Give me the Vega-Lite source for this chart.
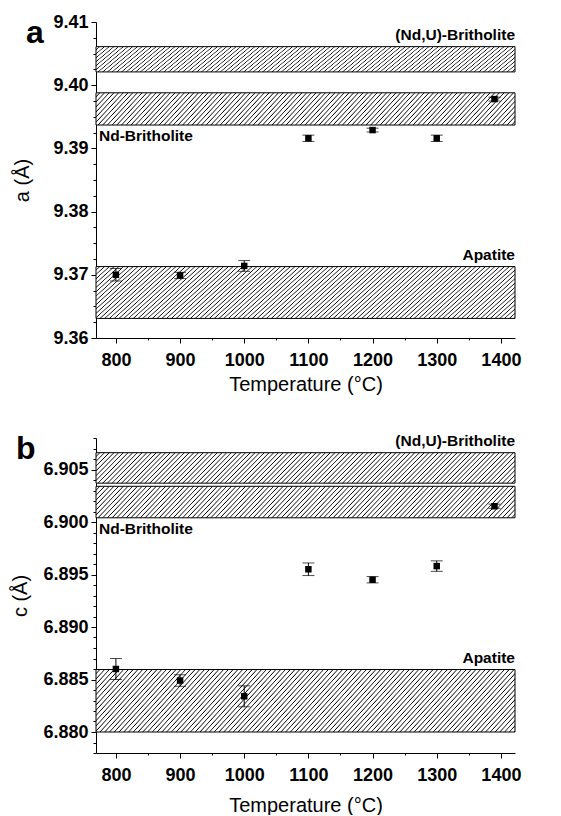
{
"$schema":"https://vega.github.io/schema/vega-lite/v6.json",
"padding":{"left":10,"top":13,"right":5,"bottom":0},
"spacing":39,
"config":{"view":{"stroke":null},"font":"Liberation Sans",
"axis":{"domainColor":"#000","tickColor":"#000","labelColor":"#000","titleColor":"#000","labelFont":"Liberation Sans","titleFont":"Liberation Sans","labelFontWeight":"bold","labelFontSize":18,"titleFontWeight":"normal","titleFontSize":20,"grid":false,"labelFlush":false,"labelOverlap":false,"domainWidth":1,"tickWidth":1}},
"datasets":{
"bandsA":[{"name":"(Nd,U)-Britholite","lo":9.4021,"hi":9.4061,"pos":"above"},{"name":"Nd-Britholite","lo":9.3937,"hi":9.3988,"pos":"below"},{"name":"Apatite","lo":9.3631,"hi":9.3713,"pos":"above"}],
"bandsB":[{"name":"(Nd,U)-Britholite","lo":6.9037,"hi":6.9066,"pos":"above"},{"name":"Nd-Britholite","lo":6.9004,"hi":6.9034,"pos":"below"},{"name":"Apatite","lo":6.880,"hi":6.88595,"pos":"above"}],
"ptsA":[{"T":800,"v":9.3700,"e":0.0010},{"T":900,"v":9.3699,"e":0.0005},{"T":1000,"v":9.3714,"e":0.00085},{"T":1100,"v":9.3916,"e":0.0005},{"T":1200,"v":9.3929,"e":0.0003},{"T":1300,"v":9.3916,"e":0.0005},{"T":1390,"v":9.3978,"e":0.0003}],
"ptsB":[{"T":800,"v":6.8860,"e":0.0010},{"T":900,"v":6.8849,"e":0.00055},{"T":1000,"v":6.8834,"e":0.0010},{"T":1100,"v":6.8955,"e":0.0006},{"T":1200,"v":6.8945,"e":0.0003},{"T":1300,"v":6.8958,"e":0.0005},{"T":1390,"v":6.9015,"e":0.0002}],
"letterA":[{"letter":"a"}],
"letterB":[{"letter":"b"}]
},
"vconcat":[
{
"width":419,"height":316,
"layer":[
{"data":{"name":"bandsA"},"transform":[{"filter":"datum.name != 'Apatite'"}],
"mark":{"type":"rect","stroke":"#000","strokeWidth":1,"fill":{"gradient":"linear","x1":0,"y1":0,"x2":1.1163,"y2":0.0799,"stops":[
{"offset":0,"color":"#fff"},{"offset":0.006,"color":"#fff"},{"offset":0.0082,"color":"#000"},{"offset":0.01,"color":"#fff"},{"offset":0.016,"color":"#fff"},{"offset":0.0182,"color":"#000"},{"offset":0.02,"color":"#fff"},{"offset":0.026,"color":"#fff"},{"offset":0.0282,"color":"#000"},{"offset":0.03,"color":"#fff"},{"offset":0.036,"color":"#fff"},{"offset":0.0382,"color":"#000"},{"offset":0.04,"color":"#fff"},{"offset":0.046,"color":"#fff"},{"offset":0.0482,"color":"#000"},{"offset":0.05,"color":"#fff"},{"offset":0.056,"color":"#fff"},{"offset":0.0582,"color":"#000"},{"offset":0.06,"color":"#fff"},{"offset":0.066,"color":"#fff"},{"offset":0.0682,"color":"#000"},{"offset":0.07,"color":"#fff"},{"offset":0.076,"color":"#fff"},{"offset":0.0782,"color":"#000"},{"offset":0.08,"color":"#fff"},{"offset":0.086,"color":"#fff"},{"offset":0.0882,"color":"#000"},{"offset":0.09,"color":"#fff"},{"offset":0.096,"color":"#fff"},{"offset":0.0982,"color":"#000"},
{"offset":0.1,"color":"#fff"},{"offset":0.106,"color":"#fff"},{"offset":0.1082,"color":"#000"},{"offset":0.11,"color":"#fff"},{"offset":0.116,"color":"#fff"},{"offset":0.1182,"color":"#000"},{"offset":0.12,"color":"#fff"},{"offset":0.126,"color":"#fff"},{"offset":0.1282,"color":"#000"},{"offset":0.13,"color":"#fff"},{"offset":0.136,"color":"#fff"},{"offset":0.1382,"color":"#000"},{"offset":0.14,"color":"#fff"},{"offset":0.146,"color":"#fff"},{"offset":0.1482,"color":"#000"},{"offset":0.15,"color":"#fff"},{"offset":0.156,"color":"#fff"},{"offset":0.1582,"color":"#000"},{"offset":0.16,"color":"#fff"},{"offset":0.166,"color":"#fff"},{"offset":0.1682,"color":"#000"},{"offset":0.17,"color":"#fff"},{"offset":0.176,"color":"#fff"},{"offset":0.1782,"color":"#000"},{"offset":0.18,"color":"#fff"},{"offset":0.186,"color":"#fff"},{"offset":0.1882,"color":"#000"},{"offset":0.19,"color":"#fff"},{"offset":0.196,"color":"#fff"},{"offset":0.1982,"color":"#000"},
{"offset":0.2,"color":"#fff"},{"offset":0.206,"color":"#fff"},{"offset":0.2082,"color":"#000"},{"offset":0.21,"color":"#fff"},{"offset":0.216,"color":"#fff"},{"offset":0.2182,"color":"#000"},{"offset":0.22,"color":"#fff"},{"offset":0.226,"color":"#fff"},{"offset":0.2282,"color":"#000"},{"offset":0.23,"color":"#fff"},{"offset":0.236,"color":"#fff"},{"offset":0.2382,"color":"#000"},{"offset":0.24,"color":"#fff"},{"offset":0.246,"color":"#fff"},{"offset":0.2482,"color":"#000"},{"offset":0.25,"color":"#fff"},{"offset":0.256,"color":"#fff"},{"offset":0.2582,"color":"#000"},{"offset":0.26,"color":"#fff"},{"offset":0.266,"color":"#fff"},{"offset":0.2682,"color":"#000"},{"offset":0.27,"color":"#fff"},{"offset":0.276,"color":"#fff"},{"offset":0.2782,"color":"#000"},{"offset":0.28,"color":"#fff"},{"offset":0.286,"color":"#fff"},{"offset":0.2882,"color":"#000"},{"offset":0.29,"color":"#fff"},{"offset":0.296,"color":"#fff"},{"offset":0.2982,"color":"#000"},
{"offset":0.3,"color":"#fff"},{"offset":0.306,"color":"#fff"},{"offset":0.3082,"color":"#000"},{"offset":0.31,"color":"#fff"},{"offset":0.316,"color":"#fff"},{"offset":0.3182,"color":"#000"},{"offset":0.32,"color":"#fff"},{"offset":0.326,"color":"#fff"},{"offset":0.3282,"color":"#000"},{"offset":0.33,"color":"#fff"},{"offset":0.336,"color":"#fff"},{"offset":0.3382,"color":"#000"},{"offset":0.34,"color":"#fff"},{"offset":0.346,"color":"#fff"},{"offset":0.3482,"color":"#000"},{"offset":0.35,"color":"#fff"},{"offset":0.356,"color":"#fff"},{"offset":0.3582,"color":"#000"},{"offset":0.36,"color":"#fff"},{"offset":0.366,"color":"#fff"},{"offset":0.3682,"color":"#000"},{"offset":0.37,"color":"#fff"},{"offset":0.376,"color":"#fff"},{"offset":0.3782,"color":"#000"},{"offset":0.38,"color":"#fff"},{"offset":0.386,"color":"#fff"},{"offset":0.3882,"color":"#000"},{"offset":0.39,"color":"#fff"},{"offset":0.396,"color":"#fff"},{"offset":0.3982,"color":"#000"},
{"offset":0.4,"color":"#fff"},{"offset":0.406,"color":"#fff"},{"offset":0.4082,"color":"#000"},{"offset":0.41,"color":"#fff"},{"offset":0.416,"color":"#fff"},{"offset":0.4182,"color":"#000"},{"offset":0.42,"color":"#fff"},{"offset":0.426,"color":"#fff"},{"offset":0.4282,"color":"#000"},{"offset":0.43,"color":"#fff"},{"offset":0.436,"color":"#fff"},{"offset":0.4382,"color":"#000"},{"offset":0.44,"color":"#fff"},{"offset":0.446,"color":"#fff"},{"offset":0.4482,"color":"#000"},{"offset":0.45,"color":"#fff"},{"offset":0.456,"color":"#fff"},{"offset":0.4582,"color":"#000"},{"offset":0.46,"color":"#fff"},{"offset":0.466,"color":"#fff"},{"offset":0.4682,"color":"#000"},{"offset":0.47,"color":"#fff"},{"offset":0.476,"color":"#fff"},{"offset":0.4782,"color":"#000"},{"offset":0.48,"color":"#fff"},{"offset":0.486,"color":"#fff"},{"offset":0.4882,"color":"#000"},{"offset":0.49,"color":"#fff"},{"offset":0.496,"color":"#fff"},{"offset":0.4982,"color":"#000"},
{"offset":0.5,"color":"#fff"},{"offset":0.506,"color":"#fff"},{"offset":0.5082,"color":"#000"},{"offset":0.51,"color":"#fff"},{"offset":0.516,"color":"#fff"},{"offset":0.5182,"color":"#000"},{"offset":0.52,"color":"#fff"},{"offset":0.526,"color":"#fff"},{"offset":0.5282,"color":"#000"},{"offset":0.53,"color":"#fff"},{"offset":0.536,"color":"#fff"},{"offset":0.5382,"color":"#000"},{"offset":0.54,"color":"#fff"},{"offset":0.546,"color":"#fff"},{"offset":0.5482,"color":"#000"},{"offset":0.55,"color":"#fff"},{"offset":0.556,"color":"#fff"},{"offset":0.5582,"color":"#000"},{"offset":0.56,"color":"#fff"},{"offset":0.566,"color":"#fff"},{"offset":0.5682,"color":"#000"},{"offset":0.57,"color":"#fff"},{"offset":0.576,"color":"#fff"},{"offset":0.5782,"color":"#000"},{"offset":0.58,"color":"#fff"},{"offset":0.586,"color":"#fff"},{"offset":0.5882,"color":"#000"},{"offset":0.59,"color":"#fff"},{"offset":0.596,"color":"#fff"},{"offset":0.5982,"color":"#000"},
{"offset":0.6,"color":"#fff"},{"offset":0.606,"color":"#fff"},{"offset":0.6082,"color":"#000"},{"offset":0.61,"color":"#fff"},{"offset":0.616,"color":"#fff"},{"offset":0.6182,"color":"#000"},{"offset":0.62,"color":"#fff"},{"offset":0.626,"color":"#fff"},{"offset":0.6282,"color":"#000"},{"offset":0.63,"color":"#fff"},{"offset":0.636,"color":"#fff"},{"offset":0.6382,"color":"#000"},{"offset":0.64,"color":"#fff"},{"offset":0.646,"color":"#fff"},{"offset":0.6482,"color":"#000"},{"offset":0.65,"color":"#fff"},{"offset":0.656,"color":"#fff"},{"offset":0.6582,"color":"#000"},{"offset":0.66,"color":"#fff"},{"offset":0.666,"color":"#fff"},{"offset":0.6682,"color":"#000"},{"offset":0.67,"color":"#fff"},{"offset":0.676,"color":"#fff"},{"offset":0.6782,"color":"#000"},{"offset":0.68,"color":"#fff"},{"offset":0.686,"color":"#fff"},{"offset":0.6882,"color":"#000"},{"offset":0.69,"color":"#fff"},{"offset":0.696,"color":"#fff"},{"offset":0.6982,"color":"#000"},
{"offset":0.7,"color":"#fff"},{"offset":0.706,"color":"#fff"},{"offset":0.7082,"color":"#000"},{"offset":0.71,"color":"#fff"},{"offset":0.716,"color":"#fff"},{"offset":0.7182,"color":"#000"},{"offset":0.72,"color":"#fff"},{"offset":0.726,"color":"#fff"},{"offset":0.7282,"color":"#000"},{"offset":0.73,"color":"#fff"},{"offset":0.736,"color":"#fff"},{"offset":0.7382,"color":"#000"},{"offset":0.74,"color":"#fff"},{"offset":0.746,"color":"#fff"},{"offset":0.7482,"color":"#000"},{"offset":0.75,"color":"#fff"},{"offset":0.756,"color":"#fff"},{"offset":0.7582,"color":"#000"},{"offset":0.76,"color":"#fff"},{"offset":0.766,"color":"#fff"},{"offset":0.7682,"color":"#000"},{"offset":0.77,"color":"#fff"},{"offset":0.776,"color":"#fff"},{"offset":0.7782,"color":"#000"},{"offset":0.78,"color":"#fff"},{"offset":0.786,"color":"#fff"},{"offset":0.7882,"color":"#000"},{"offset":0.79,"color":"#fff"},{"offset":0.796,"color":"#fff"},{"offset":0.7982,"color":"#000"},
{"offset":0.8,"color":"#fff"},{"offset":0.806,"color":"#fff"},{"offset":0.8082,"color":"#000"},{"offset":0.81,"color":"#fff"},{"offset":0.816,"color":"#fff"},{"offset":0.8182,"color":"#000"},{"offset":0.82,"color":"#fff"},{"offset":0.826,"color":"#fff"},{"offset":0.8282,"color":"#000"},{"offset":0.83,"color":"#fff"},{"offset":0.836,"color":"#fff"},{"offset":0.8382,"color":"#000"},{"offset":0.84,"color":"#fff"},{"offset":0.846,"color":"#fff"},{"offset":0.8482,"color":"#000"},{"offset":0.85,"color":"#fff"},{"offset":0.856,"color":"#fff"},{"offset":0.8582,"color":"#000"},{"offset":0.86,"color":"#fff"},{"offset":0.866,"color":"#fff"},{"offset":0.8682,"color":"#000"},{"offset":0.87,"color":"#fff"},{"offset":0.876,"color":"#fff"},{"offset":0.8782,"color":"#000"},{"offset":0.88,"color":"#fff"},{"offset":0.886,"color":"#fff"},{"offset":0.8882,"color":"#000"},{"offset":0.89,"color":"#fff"},{"offset":0.896,"color":"#fff"},{"offset":0.8982,"color":"#000"},
{"offset":0.9,"color":"#fff"},{"offset":0.906,"color":"#fff"},{"offset":0.9082,"color":"#000"},{"offset":0.91,"color":"#fff"},{"offset":0.916,"color":"#fff"},{"offset":0.9182,"color":"#000"},{"offset":0.92,"color":"#fff"},{"offset":0.926,"color":"#fff"},{"offset":0.9282,"color":"#000"},{"offset":0.93,"color":"#fff"},{"offset":0.936,"color":"#fff"},{"offset":0.9382,"color":"#000"},{"offset":0.94,"color":"#fff"},{"offset":0.946,"color":"#fff"},{"offset":0.9482,"color":"#000"},{"offset":0.95,"color":"#fff"},{"offset":0.956,"color":"#fff"},{"offset":0.9582,"color":"#000"},{"offset":0.96,"color":"#fff"},{"offset":0.966,"color":"#fff"},{"offset":0.9682,"color":"#000"},{"offset":0.97,"color":"#fff"},{"offset":0.976,"color":"#fff"},{"offset":0.9782,"color":"#000"},{"offset":0.98,"color":"#fff"},{"offset":0.986,"color":"#fff"},{"offset":0.9882,"color":"#000"},{"offset":0.99,"color":"#fff"},{"offset":0.996,"color":"#fff"},{"offset":0.9982,"color":"#000"}
]}},
"encoding":{"y":{"field":"lo","type":"quantitative","scale":{"domain":[9.36,9.41],"nice":false,"zero":false},"axis":{"orient":"left","values":[9.3625,9.365,9.3675,9.3725,9.375,9.3775,9.3825,9.385,9.3875,9.3925,9.395,9.3975,9.4025,9.405,9.4075],"tickSize":3,"labels":false,"domain":false,"title":null}},"y2":{"field":"hi"}}},
{"data":{"name":"bandsA"},"transform":[{"filter":"datum.name == 'Apatite'"}],
"mark":{"type":"rect","stroke":"#000","strokeWidth":1,"fill":{"gradient":"linear","x1":0,"y1":0,"x2":1.1154,"y2":0.1517,"stops":[
{"offset":0,"color":"#fff"},{"offset":0.006,"color":"#fff"},{"offset":0.0082,"color":"#000"},{"offset":0.01,"color":"#fff"},{"offset":0.016,"color":"#fff"},{"offset":0.0182,"color":"#000"},{"offset":0.02,"color":"#fff"},{"offset":0.026,"color":"#fff"},{"offset":0.0282,"color":"#000"},{"offset":0.03,"color":"#fff"},{"offset":0.036,"color":"#fff"},{"offset":0.0382,"color":"#000"},{"offset":0.04,"color":"#fff"},{"offset":0.046,"color":"#fff"},{"offset":0.0482,"color":"#000"},{"offset":0.05,"color":"#fff"},{"offset":0.056,"color":"#fff"},{"offset":0.0582,"color":"#000"},{"offset":0.06,"color":"#fff"},{"offset":0.066,"color":"#fff"},{"offset":0.0682,"color":"#000"},{"offset":0.07,"color":"#fff"},{"offset":0.076,"color":"#fff"},{"offset":0.0782,"color":"#000"},{"offset":0.08,"color":"#fff"},{"offset":0.086,"color":"#fff"},{"offset":0.0882,"color":"#000"},{"offset":0.09,"color":"#fff"},{"offset":0.096,"color":"#fff"},{"offset":0.0982,"color":"#000"},
{"offset":0.1,"color":"#fff"},{"offset":0.106,"color":"#fff"},{"offset":0.1082,"color":"#000"},{"offset":0.11,"color":"#fff"},{"offset":0.116,"color":"#fff"},{"offset":0.1182,"color":"#000"},{"offset":0.12,"color":"#fff"},{"offset":0.126,"color":"#fff"},{"offset":0.1282,"color":"#000"},{"offset":0.13,"color":"#fff"},{"offset":0.136,"color":"#fff"},{"offset":0.1382,"color":"#000"},{"offset":0.14,"color":"#fff"},{"offset":0.146,"color":"#fff"},{"offset":0.1482,"color":"#000"},{"offset":0.15,"color":"#fff"},{"offset":0.156,"color":"#fff"},{"offset":0.1582,"color":"#000"},{"offset":0.16,"color":"#fff"},{"offset":0.166,"color":"#fff"},{"offset":0.1682,"color":"#000"},{"offset":0.17,"color":"#fff"},{"offset":0.176,"color":"#fff"},{"offset":0.1782,"color":"#000"},{"offset":0.18,"color":"#fff"},{"offset":0.186,"color":"#fff"},{"offset":0.1882,"color":"#000"},{"offset":0.19,"color":"#fff"},{"offset":0.196,"color":"#fff"},{"offset":0.1982,"color":"#000"},
{"offset":0.2,"color":"#fff"},{"offset":0.206,"color":"#fff"},{"offset":0.2082,"color":"#000"},{"offset":0.21,"color":"#fff"},{"offset":0.216,"color":"#fff"},{"offset":0.2182,"color":"#000"},{"offset":0.22,"color":"#fff"},{"offset":0.226,"color":"#fff"},{"offset":0.2282,"color":"#000"},{"offset":0.23,"color":"#fff"},{"offset":0.236,"color":"#fff"},{"offset":0.2382,"color":"#000"},{"offset":0.24,"color":"#fff"},{"offset":0.246,"color":"#fff"},{"offset":0.2482,"color":"#000"},{"offset":0.25,"color":"#fff"},{"offset":0.256,"color":"#fff"},{"offset":0.2582,"color":"#000"},{"offset":0.26,"color":"#fff"},{"offset":0.266,"color":"#fff"},{"offset":0.2682,"color":"#000"},{"offset":0.27,"color":"#fff"},{"offset":0.276,"color":"#fff"},{"offset":0.2782,"color":"#000"},{"offset":0.28,"color":"#fff"},{"offset":0.286,"color":"#fff"},{"offset":0.2882,"color":"#000"},{"offset":0.29,"color":"#fff"},{"offset":0.296,"color":"#fff"},{"offset":0.2982,"color":"#000"},
{"offset":0.3,"color":"#fff"},{"offset":0.306,"color":"#fff"},{"offset":0.3082,"color":"#000"},{"offset":0.31,"color":"#fff"},{"offset":0.316,"color":"#fff"},{"offset":0.3182,"color":"#000"},{"offset":0.32,"color":"#fff"},{"offset":0.326,"color":"#fff"},{"offset":0.3282,"color":"#000"},{"offset":0.33,"color":"#fff"},{"offset":0.336,"color":"#fff"},{"offset":0.3382,"color":"#000"},{"offset":0.34,"color":"#fff"},{"offset":0.346,"color":"#fff"},{"offset":0.3482,"color":"#000"},{"offset":0.35,"color":"#fff"},{"offset":0.356,"color":"#fff"},{"offset":0.3582,"color":"#000"},{"offset":0.36,"color":"#fff"},{"offset":0.366,"color":"#fff"},{"offset":0.3682,"color":"#000"},{"offset":0.37,"color":"#fff"},{"offset":0.376,"color":"#fff"},{"offset":0.3782,"color":"#000"},{"offset":0.38,"color":"#fff"},{"offset":0.386,"color":"#fff"},{"offset":0.3882,"color":"#000"},{"offset":0.39,"color":"#fff"},{"offset":0.396,"color":"#fff"},{"offset":0.3982,"color":"#000"},
{"offset":0.4,"color":"#fff"},{"offset":0.406,"color":"#fff"},{"offset":0.4082,"color":"#000"},{"offset":0.41,"color":"#fff"},{"offset":0.416,"color":"#fff"},{"offset":0.4182,"color":"#000"},{"offset":0.42,"color":"#fff"},{"offset":0.426,"color":"#fff"},{"offset":0.4282,"color":"#000"},{"offset":0.43,"color":"#fff"},{"offset":0.436,"color":"#fff"},{"offset":0.4382,"color":"#000"},{"offset":0.44,"color":"#fff"},{"offset":0.446,"color":"#fff"},{"offset":0.4482,"color":"#000"},{"offset":0.45,"color":"#fff"},{"offset":0.456,"color":"#fff"},{"offset":0.4582,"color":"#000"},{"offset":0.46,"color":"#fff"},{"offset":0.466,"color":"#fff"},{"offset":0.4682,"color":"#000"},{"offset":0.47,"color":"#fff"},{"offset":0.476,"color":"#fff"},{"offset":0.4782,"color":"#000"},{"offset":0.48,"color":"#fff"},{"offset":0.486,"color":"#fff"},{"offset":0.4882,"color":"#000"},{"offset":0.49,"color":"#fff"},{"offset":0.496,"color":"#fff"},{"offset":0.4982,"color":"#000"},
{"offset":0.5,"color":"#fff"},{"offset":0.506,"color":"#fff"},{"offset":0.5082,"color":"#000"},{"offset":0.51,"color":"#fff"},{"offset":0.516,"color":"#fff"},{"offset":0.5182,"color":"#000"},{"offset":0.52,"color":"#fff"},{"offset":0.526,"color":"#fff"},{"offset":0.5282,"color":"#000"},{"offset":0.53,"color":"#fff"},{"offset":0.536,"color":"#fff"},{"offset":0.5382,"color":"#000"},{"offset":0.54,"color":"#fff"},{"offset":0.546,"color":"#fff"},{"offset":0.5482,"color":"#000"},{"offset":0.55,"color":"#fff"},{"offset":0.556,"color":"#fff"},{"offset":0.5582,"color":"#000"},{"offset":0.56,"color":"#fff"},{"offset":0.566,"color":"#fff"},{"offset":0.5682,"color":"#000"},{"offset":0.57,"color":"#fff"},{"offset":0.576,"color":"#fff"},{"offset":0.5782,"color":"#000"},{"offset":0.58,"color":"#fff"},{"offset":0.586,"color":"#fff"},{"offset":0.5882,"color":"#000"},{"offset":0.59,"color":"#fff"},{"offset":0.596,"color":"#fff"},{"offset":0.5982,"color":"#000"},
{"offset":0.6,"color":"#fff"},{"offset":0.606,"color":"#fff"},{"offset":0.6082,"color":"#000"},{"offset":0.61,"color":"#fff"},{"offset":0.616,"color":"#fff"},{"offset":0.6182,"color":"#000"},{"offset":0.62,"color":"#fff"},{"offset":0.626,"color":"#fff"},{"offset":0.6282,"color":"#000"},{"offset":0.63,"color":"#fff"},{"offset":0.636,"color":"#fff"},{"offset":0.6382,"color":"#000"},{"offset":0.64,"color":"#fff"},{"offset":0.646,"color":"#fff"},{"offset":0.6482,"color":"#000"},{"offset":0.65,"color":"#fff"},{"offset":0.656,"color":"#fff"},{"offset":0.6582,"color":"#000"},{"offset":0.66,"color":"#fff"},{"offset":0.666,"color":"#fff"},{"offset":0.6682,"color":"#000"},{"offset":0.67,"color":"#fff"},{"offset":0.676,"color":"#fff"},{"offset":0.6782,"color":"#000"},{"offset":0.68,"color":"#fff"},{"offset":0.686,"color":"#fff"},{"offset":0.6882,"color":"#000"},{"offset":0.69,"color":"#fff"},{"offset":0.696,"color":"#fff"},{"offset":0.6982,"color":"#000"},
{"offset":0.7,"color":"#fff"},{"offset":0.706,"color":"#fff"},{"offset":0.7082,"color":"#000"},{"offset":0.71,"color":"#fff"},{"offset":0.716,"color":"#fff"},{"offset":0.7182,"color":"#000"},{"offset":0.72,"color":"#fff"},{"offset":0.726,"color":"#fff"},{"offset":0.7282,"color":"#000"},{"offset":0.73,"color":"#fff"},{"offset":0.736,"color":"#fff"},{"offset":0.7382,"color":"#000"},{"offset":0.74,"color":"#fff"},{"offset":0.746,"color":"#fff"},{"offset":0.7482,"color":"#000"},{"offset":0.75,"color":"#fff"},{"offset":0.756,"color":"#fff"},{"offset":0.7582,"color":"#000"},{"offset":0.76,"color":"#fff"},{"offset":0.766,"color":"#fff"},{"offset":0.7682,"color":"#000"},{"offset":0.77,"color":"#fff"},{"offset":0.776,"color":"#fff"},{"offset":0.7782,"color":"#000"},{"offset":0.78,"color":"#fff"},{"offset":0.786,"color":"#fff"},{"offset":0.7882,"color":"#000"},{"offset":0.79,"color":"#fff"},{"offset":0.796,"color":"#fff"},{"offset":0.7982,"color":"#000"},
{"offset":0.8,"color":"#fff"},{"offset":0.806,"color":"#fff"},{"offset":0.8082,"color":"#000"},{"offset":0.81,"color":"#fff"},{"offset":0.816,"color":"#fff"},{"offset":0.8182,"color":"#000"},{"offset":0.82,"color":"#fff"},{"offset":0.826,"color":"#fff"},{"offset":0.8282,"color":"#000"},{"offset":0.83,"color":"#fff"},{"offset":0.836,"color":"#fff"},{"offset":0.8382,"color":"#000"},{"offset":0.84,"color":"#fff"},{"offset":0.846,"color":"#fff"},{"offset":0.8482,"color":"#000"},{"offset":0.85,"color":"#fff"},{"offset":0.856,"color":"#fff"},{"offset":0.8582,"color":"#000"},{"offset":0.86,"color":"#fff"},{"offset":0.866,"color":"#fff"},{"offset":0.8682,"color":"#000"},{"offset":0.87,"color":"#fff"},{"offset":0.876,"color":"#fff"},{"offset":0.8782,"color":"#000"},{"offset":0.88,"color":"#fff"},{"offset":0.886,"color":"#fff"},{"offset":0.8882,"color":"#000"},{"offset":0.89,"color":"#fff"},{"offset":0.896,"color":"#fff"},{"offset":0.8982,"color":"#000"},
{"offset":0.9,"color":"#fff"},{"offset":0.906,"color":"#fff"},{"offset":0.9082,"color":"#000"},{"offset":0.91,"color":"#fff"},{"offset":0.916,"color":"#fff"},{"offset":0.9182,"color":"#000"},{"offset":0.92,"color":"#fff"},{"offset":0.926,"color":"#fff"},{"offset":0.9282,"color":"#000"},{"offset":0.93,"color":"#fff"},{"offset":0.936,"color":"#fff"},{"offset":0.9382,"color":"#000"},{"offset":0.94,"color":"#fff"},{"offset":0.946,"color":"#fff"},{"offset":0.9482,"color":"#000"},{"offset":0.95,"color":"#fff"},{"offset":0.956,"color":"#fff"},{"offset":0.9582,"color":"#000"},{"offset":0.96,"color":"#fff"},{"offset":0.966,"color":"#fff"},{"offset":0.9682,"color":"#000"},{"offset":0.97,"color":"#fff"},{"offset":0.976,"color":"#fff"},{"offset":0.9782,"color":"#000"},{"offset":0.98,"color":"#fff"},{"offset":0.986,"color":"#fff"},{"offset":0.9882,"color":"#000"},{"offset":0.99,"color":"#fff"},{"offset":0.996,"color":"#fff"},{"offset":0.9982,"color":"#000"}
]}},
"encoding":{"y":{"field":"lo","type":"quantitative","axis":null},"y2":{"field":"hi"}}},
{"data":{"name":"bandsA"},"transform":[{"filter":"datum.pos == 'above'"}],
"mark":{"type":"text","align":"right","baseline":"alphabetic","dy":-7,"fontSize":15.5,"fontWeight":"bold","font":"Liberation Sans","color":"#000"},
"encoding":{"x":{"datum":1422,"type":"quantitative","axis":null},"y":{"field":"hi","type":"quantitative","axis":null},"text":{"field":"name"}}},
{"data":{"name":"bandsA"},"transform":[{"filter":"datum.pos == 'below'"}],
"mark":{"type":"text","align":"left","baseline":"top","dx":3,"dy":4,"fontSize":15.5,"fontWeight":"bold","font":"Liberation Sans","color":"#000"},
"encoding":{"x":{"datum":769,"type":"quantitative","axis":null},"y":{"field":"lo","type":"quantitative","axis":null},"text":{"field":"name"}}},
{"data":{"name":"letterA"},
"mark":{"type":"text","align":"left","baseline":"alphabetic","dx":-70,"dy":21,"fontSize":32,"fontWeight":"bold","font":"Liberation Sans","color":"#000"},
"encoding":{"x":{"datum":769,"type":"quantitative","axis":null},"y":{"datum":9.41,"type":"quantitative","axis":null},"text":{"field":"letter"}}},
{"data":{"name":"ptsA"},
"mark":{"type":"errorbar","ticks":{"size":12},"thickness":1,"color":"#000"},
"encoding":{"x":{"field":"T","type":"quantitative","scale":{"domain":[769,1422],"nice":false,"zero":false},"axis":{"orient":"bottom","values":[850,950,1050,1150,1250,1350],"tickSize":2,"labels":false,"domain":false,"title":null}},"y":{"field":"v","type":"quantitative","axis":null},"yError":{"field":"e"}}},
{"data":{"name":"ptsA"},
"mark":{"type":"square","size":42,"color":"#000","opacity":1},
"encoding":{"x":{"field":"T","type":"quantitative","axis":{"orient":"bottom","values":[800,900,1000,1100,1200,1300,1400],"format":"d","tickSize":5,"labelPadding":8,"titlePadding":5,"title":"Temperature (°C)"}},
"y":{"field":"v","type":"quantitative","axis":{"orient":"left","values":[9.36,9.37,9.38,9.39,9.40,9.41],"format":".2f","tickSize":5,"labelPadding":3,"titlePadding":20,"title":"a (Å)"}}}}
],
"resolve":{"axis":{"x":"independent","y":"independent"}}
},
{
"width":419,"height":315,
"layer":[
{"data":{"name":"bandsB"},"transform":[{"filter":"datum.name != 'Apatite'"}],
"mark":{"type":"rect","stroke":"#000","strokeWidth":1,"fill":{"gradient":"linear","x1":0,"y1":0,"x2":1.1163,"y2":0.0799,"stops":[
{"offset":0,"color":"#fff"},{"offset":0.006,"color":"#fff"},{"offset":0.0082,"color":"#000"},{"offset":0.01,"color":"#fff"},{"offset":0.016,"color":"#fff"},{"offset":0.0182,"color":"#000"},{"offset":0.02,"color":"#fff"},{"offset":0.026,"color":"#fff"},{"offset":0.0282,"color":"#000"},{"offset":0.03,"color":"#fff"},{"offset":0.036,"color":"#fff"},{"offset":0.0382,"color":"#000"},{"offset":0.04,"color":"#fff"},{"offset":0.046,"color":"#fff"},{"offset":0.0482,"color":"#000"},{"offset":0.05,"color":"#fff"},{"offset":0.056,"color":"#fff"},{"offset":0.0582,"color":"#000"},{"offset":0.06,"color":"#fff"},{"offset":0.066,"color":"#fff"},{"offset":0.0682,"color":"#000"},{"offset":0.07,"color":"#fff"},{"offset":0.076,"color":"#fff"},{"offset":0.0782,"color":"#000"},{"offset":0.08,"color":"#fff"},{"offset":0.086,"color":"#fff"},{"offset":0.0882,"color":"#000"},{"offset":0.09,"color":"#fff"},{"offset":0.096,"color":"#fff"},{"offset":0.0982,"color":"#000"},
{"offset":0.1,"color":"#fff"},{"offset":0.106,"color":"#fff"},{"offset":0.1082,"color":"#000"},{"offset":0.11,"color":"#fff"},{"offset":0.116,"color":"#fff"},{"offset":0.1182,"color":"#000"},{"offset":0.12,"color":"#fff"},{"offset":0.126,"color":"#fff"},{"offset":0.1282,"color":"#000"},{"offset":0.13,"color":"#fff"},{"offset":0.136,"color":"#fff"},{"offset":0.1382,"color":"#000"},{"offset":0.14,"color":"#fff"},{"offset":0.146,"color":"#fff"},{"offset":0.1482,"color":"#000"},{"offset":0.15,"color":"#fff"},{"offset":0.156,"color":"#fff"},{"offset":0.1582,"color":"#000"},{"offset":0.16,"color":"#fff"},{"offset":0.166,"color":"#fff"},{"offset":0.1682,"color":"#000"},{"offset":0.17,"color":"#fff"},{"offset":0.176,"color":"#fff"},{"offset":0.1782,"color":"#000"},{"offset":0.18,"color":"#fff"},{"offset":0.186,"color":"#fff"},{"offset":0.1882,"color":"#000"},{"offset":0.19,"color":"#fff"},{"offset":0.196,"color":"#fff"},{"offset":0.1982,"color":"#000"},
{"offset":0.2,"color":"#fff"},{"offset":0.206,"color":"#fff"},{"offset":0.2082,"color":"#000"},{"offset":0.21,"color":"#fff"},{"offset":0.216,"color":"#fff"},{"offset":0.2182,"color":"#000"},{"offset":0.22,"color":"#fff"},{"offset":0.226,"color":"#fff"},{"offset":0.2282,"color":"#000"},{"offset":0.23,"color":"#fff"},{"offset":0.236,"color":"#fff"},{"offset":0.2382,"color":"#000"},{"offset":0.24,"color":"#fff"},{"offset":0.246,"color":"#fff"},{"offset":0.2482,"color":"#000"},{"offset":0.25,"color":"#fff"},{"offset":0.256,"color":"#fff"},{"offset":0.2582,"color":"#000"},{"offset":0.26,"color":"#fff"},{"offset":0.266,"color":"#fff"},{"offset":0.2682,"color":"#000"},{"offset":0.27,"color":"#fff"},{"offset":0.276,"color":"#fff"},{"offset":0.2782,"color":"#000"},{"offset":0.28,"color":"#fff"},{"offset":0.286,"color":"#fff"},{"offset":0.2882,"color":"#000"},{"offset":0.29,"color":"#fff"},{"offset":0.296,"color":"#fff"},{"offset":0.2982,"color":"#000"},
{"offset":0.3,"color":"#fff"},{"offset":0.306,"color":"#fff"},{"offset":0.3082,"color":"#000"},{"offset":0.31,"color":"#fff"},{"offset":0.316,"color":"#fff"},{"offset":0.3182,"color":"#000"},{"offset":0.32,"color":"#fff"},{"offset":0.326,"color":"#fff"},{"offset":0.3282,"color":"#000"},{"offset":0.33,"color":"#fff"},{"offset":0.336,"color":"#fff"},{"offset":0.3382,"color":"#000"},{"offset":0.34,"color":"#fff"},{"offset":0.346,"color":"#fff"},{"offset":0.3482,"color":"#000"},{"offset":0.35,"color":"#fff"},{"offset":0.356,"color":"#fff"},{"offset":0.3582,"color":"#000"},{"offset":0.36,"color":"#fff"},{"offset":0.366,"color":"#fff"},{"offset":0.3682,"color":"#000"},{"offset":0.37,"color":"#fff"},{"offset":0.376,"color":"#fff"},{"offset":0.3782,"color":"#000"},{"offset":0.38,"color":"#fff"},{"offset":0.386,"color":"#fff"},{"offset":0.3882,"color":"#000"},{"offset":0.39,"color":"#fff"},{"offset":0.396,"color":"#fff"},{"offset":0.3982,"color":"#000"},
{"offset":0.4,"color":"#fff"},{"offset":0.406,"color":"#fff"},{"offset":0.4082,"color":"#000"},{"offset":0.41,"color":"#fff"},{"offset":0.416,"color":"#fff"},{"offset":0.4182,"color":"#000"},{"offset":0.42,"color":"#fff"},{"offset":0.426,"color":"#fff"},{"offset":0.4282,"color":"#000"},{"offset":0.43,"color":"#fff"},{"offset":0.436,"color":"#fff"},{"offset":0.4382,"color":"#000"},{"offset":0.44,"color":"#fff"},{"offset":0.446,"color":"#fff"},{"offset":0.4482,"color":"#000"},{"offset":0.45,"color":"#fff"},{"offset":0.456,"color":"#fff"},{"offset":0.4582,"color":"#000"},{"offset":0.46,"color":"#fff"},{"offset":0.466,"color":"#fff"},{"offset":0.4682,"color":"#000"},{"offset":0.47,"color":"#fff"},{"offset":0.476,"color":"#fff"},{"offset":0.4782,"color":"#000"},{"offset":0.48,"color":"#fff"},{"offset":0.486,"color":"#fff"},{"offset":0.4882,"color":"#000"},{"offset":0.49,"color":"#fff"},{"offset":0.496,"color":"#fff"},{"offset":0.4982,"color":"#000"},
{"offset":0.5,"color":"#fff"},{"offset":0.506,"color":"#fff"},{"offset":0.5082,"color":"#000"},{"offset":0.51,"color":"#fff"},{"offset":0.516,"color":"#fff"},{"offset":0.5182,"color":"#000"},{"offset":0.52,"color":"#fff"},{"offset":0.526,"color":"#fff"},{"offset":0.5282,"color":"#000"},{"offset":0.53,"color":"#fff"},{"offset":0.536,"color":"#fff"},{"offset":0.5382,"color":"#000"},{"offset":0.54,"color":"#fff"},{"offset":0.546,"color":"#fff"},{"offset":0.5482,"color":"#000"},{"offset":0.55,"color":"#fff"},{"offset":0.556,"color":"#fff"},{"offset":0.5582,"color":"#000"},{"offset":0.56,"color":"#fff"},{"offset":0.566,"color":"#fff"},{"offset":0.5682,"color":"#000"},{"offset":0.57,"color":"#fff"},{"offset":0.576,"color":"#fff"},{"offset":0.5782,"color":"#000"},{"offset":0.58,"color":"#fff"},{"offset":0.586,"color":"#fff"},{"offset":0.5882,"color":"#000"},{"offset":0.59,"color":"#fff"},{"offset":0.596,"color":"#fff"},{"offset":0.5982,"color":"#000"},
{"offset":0.6,"color":"#fff"},{"offset":0.606,"color":"#fff"},{"offset":0.6082,"color":"#000"},{"offset":0.61,"color":"#fff"},{"offset":0.616,"color":"#fff"},{"offset":0.6182,"color":"#000"},{"offset":0.62,"color":"#fff"},{"offset":0.626,"color":"#fff"},{"offset":0.6282,"color":"#000"},{"offset":0.63,"color":"#fff"},{"offset":0.636,"color":"#fff"},{"offset":0.6382,"color":"#000"},{"offset":0.64,"color":"#fff"},{"offset":0.646,"color":"#fff"},{"offset":0.6482,"color":"#000"},{"offset":0.65,"color":"#fff"},{"offset":0.656,"color":"#fff"},{"offset":0.6582,"color":"#000"},{"offset":0.66,"color":"#fff"},{"offset":0.666,"color":"#fff"},{"offset":0.6682,"color":"#000"},{"offset":0.67,"color":"#fff"},{"offset":0.676,"color":"#fff"},{"offset":0.6782,"color":"#000"},{"offset":0.68,"color":"#fff"},{"offset":0.686,"color":"#fff"},{"offset":0.6882,"color":"#000"},{"offset":0.69,"color":"#fff"},{"offset":0.696,"color":"#fff"},{"offset":0.6982,"color":"#000"},
{"offset":0.7,"color":"#fff"},{"offset":0.706,"color":"#fff"},{"offset":0.7082,"color":"#000"},{"offset":0.71,"color":"#fff"},{"offset":0.716,"color":"#fff"},{"offset":0.7182,"color":"#000"},{"offset":0.72,"color":"#fff"},{"offset":0.726,"color":"#fff"},{"offset":0.7282,"color":"#000"},{"offset":0.73,"color":"#fff"},{"offset":0.736,"color":"#fff"},{"offset":0.7382,"color":"#000"},{"offset":0.74,"color":"#fff"},{"offset":0.746,"color":"#fff"},{"offset":0.7482,"color":"#000"},{"offset":0.75,"color":"#fff"},{"offset":0.756,"color":"#fff"},{"offset":0.7582,"color":"#000"},{"offset":0.76,"color":"#fff"},{"offset":0.766,"color":"#fff"},{"offset":0.7682,"color":"#000"},{"offset":0.77,"color":"#fff"},{"offset":0.776,"color":"#fff"},{"offset":0.7782,"color":"#000"},{"offset":0.78,"color":"#fff"},{"offset":0.786,"color":"#fff"},{"offset":0.7882,"color":"#000"},{"offset":0.79,"color":"#fff"},{"offset":0.796,"color":"#fff"},{"offset":0.7982,"color":"#000"},
{"offset":0.8,"color":"#fff"},{"offset":0.806,"color":"#fff"},{"offset":0.8082,"color":"#000"},{"offset":0.81,"color":"#fff"},{"offset":0.816,"color":"#fff"},{"offset":0.8182,"color":"#000"},{"offset":0.82,"color":"#fff"},{"offset":0.826,"color":"#fff"},{"offset":0.8282,"color":"#000"},{"offset":0.83,"color":"#fff"},{"offset":0.836,"color":"#fff"},{"offset":0.8382,"color":"#000"},{"offset":0.84,"color":"#fff"},{"offset":0.846,"color":"#fff"},{"offset":0.8482,"color":"#000"},{"offset":0.85,"color":"#fff"},{"offset":0.856,"color":"#fff"},{"offset":0.8582,"color":"#000"},{"offset":0.86,"color":"#fff"},{"offset":0.866,"color":"#fff"},{"offset":0.8682,"color":"#000"},{"offset":0.87,"color":"#fff"},{"offset":0.876,"color":"#fff"},{"offset":0.8782,"color":"#000"},{"offset":0.88,"color":"#fff"},{"offset":0.886,"color":"#fff"},{"offset":0.8882,"color":"#000"},{"offset":0.89,"color":"#fff"},{"offset":0.896,"color":"#fff"},{"offset":0.8982,"color":"#000"},
{"offset":0.9,"color":"#fff"},{"offset":0.906,"color":"#fff"},{"offset":0.9082,"color":"#000"},{"offset":0.91,"color":"#fff"},{"offset":0.916,"color":"#fff"},{"offset":0.9182,"color":"#000"},{"offset":0.92,"color":"#fff"},{"offset":0.926,"color":"#fff"},{"offset":0.9282,"color":"#000"},{"offset":0.93,"color":"#fff"},{"offset":0.936,"color":"#fff"},{"offset":0.9382,"color":"#000"},{"offset":0.94,"color":"#fff"},{"offset":0.946,"color":"#fff"},{"offset":0.9482,"color":"#000"},{"offset":0.95,"color":"#fff"},{"offset":0.956,"color":"#fff"},{"offset":0.9582,"color":"#000"},{"offset":0.96,"color":"#fff"},{"offset":0.966,"color":"#fff"},{"offset":0.9682,"color":"#000"},{"offset":0.97,"color":"#fff"},{"offset":0.976,"color":"#fff"},{"offset":0.9782,"color":"#000"},{"offset":0.98,"color":"#fff"},{"offset":0.986,"color":"#fff"},{"offset":0.9882,"color":"#000"},{"offset":0.99,"color":"#fff"},{"offset":0.996,"color":"#fff"},{"offset":0.9982,"color":"#000"}
]}},
"encoding":{"y":{"field":"lo","type":"quantitative","scale":{"domain":[6.878,6.908],"nice":false,"zero":false},"axis":{"orient":"left","values":[6.878,6.879,6.881,6.882,6.883,6.884,6.886,6.887,6.888,6.889,6.891,6.892,6.893,6.894,6.896,6.897,6.898,6.899,6.901,6.902,6.903,6.904,6.906,6.907,6.908],"tickSize":3,"labels":false,"domain":false,"title":null}},"y2":{"field":"hi"}}},
{"data":{"name":"bandsB"},"transform":[{"filter":"datum.name == 'Apatite'"}],
"mark":{"type":"rect","stroke":"#000","strokeWidth":1,"fill":{"gradient":"linear","x1":0,"y1":0,"x2":1.1154,"y2":0.1517,"stops":[
{"offset":0,"color":"#fff"},{"offset":0.006,"color":"#fff"},{"offset":0.0082,"color":"#000"},{"offset":0.01,"color":"#fff"},{"offset":0.016,"color":"#fff"},{"offset":0.0182,"color":"#000"},{"offset":0.02,"color":"#fff"},{"offset":0.026,"color":"#fff"},{"offset":0.0282,"color":"#000"},{"offset":0.03,"color":"#fff"},{"offset":0.036,"color":"#fff"},{"offset":0.0382,"color":"#000"},{"offset":0.04,"color":"#fff"},{"offset":0.046,"color":"#fff"},{"offset":0.0482,"color":"#000"},{"offset":0.05,"color":"#fff"},{"offset":0.056,"color":"#fff"},{"offset":0.0582,"color":"#000"},{"offset":0.06,"color":"#fff"},{"offset":0.066,"color":"#fff"},{"offset":0.0682,"color":"#000"},{"offset":0.07,"color":"#fff"},{"offset":0.076,"color":"#fff"},{"offset":0.0782,"color":"#000"},{"offset":0.08,"color":"#fff"},{"offset":0.086,"color":"#fff"},{"offset":0.0882,"color":"#000"},{"offset":0.09,"color":"#fff"},{"offset":0.096,"color":"#fff"},{"offset":0.0982,"color":"#000"},
{"offset":0.1,"color":"#fff"},{"offset":0.106,"color":"#fff"},{"offset":0.1082,"color":"#000"},{"offset":0.11,"color":"#fff"},{"offset":0.116,"color":"#fff"},{"offset":0.1182,"color":"#000"},{"offset":0.12,"color":"#fff"},{"offset":0.126,"color":"#fff"},{"offset":0.1282,"color":"#000"},{"offset":0.13,"color":"#fff"},{"offset":0.136,"color":"#fff"},{"offset":0.1382,"color":"#000"},{"offset":0.14,"color":"#fff"},{"offset":0.146,"color":"#fff"},{"offset":0.1482,"color":"#000"},{"offset":0.15,"color":"#fff"},{"offset":0.156,"color":"#fff"},{"offset":0.1582,"color":"#000"},{"offset":0.16,"color":"#fff"},{"offset":0.166,"color":"#fff"},{"offset":0.1682,"color":"#000"},{"offset":0.17,"color":"#fff"},{"offset":0.176,"color":"#fff"},{"offset":0.1782,"color":"#000"},{"offset":0.18,"color":"#fff"},{"offset":0.186,"color":"#fff"},{"offset":0.1882,"color":"#000"},{"offset":0.19,"color":"#fff"},{"offset":0.196,"color":"#fff"},{"offset":0.1982,"color":"#000"},
{"offset":0.2,"color":"#fff"},{"offset":0.206,"color":"#fff"},{"offset":0.2082,"color":"#000"},{"offset":0.21,"color":"#fff"},{"offset":0.216,"color":"#fff"},{"offset":0.2182,"color":"#000"},{"offset":0.22,"color":"#fff"},{"offset":0.226,"color":"#fff"},{"offset":0.2282,"color":"#000"},{"offset":0.23,"color":"#fff"},{"offset":0.236,"color":"#fff"},{"offset":0.2382,"color":"#000"},{"offset":0.24,"color":"#fff"},{"offset":0.246,"color":"#fff"},{"offset":0.2482,"color":"#000"},{"offset":0.25,"color":"#fff"},{"offset":0.256,"color":"#fff"},{"offset":0.2582,"color":"#000"},{"offset":0.26,"color":"#fff"},{"offset":0.266,"color":"#fff"},{"offset":0.2682,"color":"#000"},{"offset":0.27,"color":"#fff"},{"offset":0.276,"color":"#fff"},{"offset":0.2782,"color":"#000"},{"offset":0.28,"color":"#fff"},{"offset":0.286,"color":"#fff"},{"offset":0.2882,"color":"#000"},{"offset":0.29,"color":"#fff"},{"offset":0.296,"color":"#fff"},{"offset":0.2982,"color":"#000"},
{"offset":0.3,"color":"#fff"},{"offset":0.306,"color":"#fff"},{"offset":0.3082,"color":"#000"},{"offset":0.31,"color":"#fff"},{"offset":0.316,"color":"#fff"},{"offset":0.3182,"color":"#000"},{"offset":0.32,"color":"#fff"},{"offset":0.326,"color":"#fff"},{"offset":0.3282,"color":"#000"},{"offset":0.33,"color":"#fff"},{"offset":0.336,"color":"#fff"},{"offset":0.3382,"color":"#000"},{"offset":0.34,"color":"#fff"},{"offset":0.346,"color":"#fff"},{"offset":0.3482,"color":"#000"},{"offset":0.35,"color":"#fff"},{"offset":0.356,"color":"#fff"},{"offset":0.3582,"color":"#000"},{"offset":0.36,"color":"#fff"},{"offset":0.366,"color":"#fff"},{"offset":0.3682,"color":"#000"},{"offset":0.37,"color":"#fff"},{"offset":0.376,"color":"#fff"},{"offset":0.3782,"color":"#000"},{"offset":0.38,"color":"#fff"},{"offset":0.386,"color":"#fff"},{"offset":0.3882,"color":"#000"},{"offset":0.39,"color":"#fff"},{"offset":0.396,"color":"#fff"},{"offset":0.3982,"color":"#000"},
{"offset":0.4,"color":"#fff"},{"offset":0.406,"color":"#fff"},{"offset":0.4082,"color":"#000"},{"offset":0.41,"color":"#fff"},{"offset":0.416,"color":"#fff"},{"offset":0.4182,"color":"#000"},{"offset":0.42,"color":"#fff"},{"offset":0.426,"color":"#fff"},{"offset":0.4282,"color":"#000"},{"offset":0.43,"color":"#fff"},{"offset":0.436,"color":"#fff"},{"offset":0.4382,"color":"#000"},{"offset":0.44,"color":"#fff"},{"offset":0.446,"color":"#fff"},{"offset":0.4482,"color":"#000"},{"offset":0.45,"color":"#fff"},{"offset":0.456,"color":"#fff"},{"offset":0.4582,"color":"#000"},{"offset":0.46,"color":"#fff"},{"offset":0.466,"color":"#fff"},{"offset":0.4682,"color":"#000"},{"offset":0.47,"color":"#fff"},{"offset":0.476,"color":"#fff"},{"offset":0.4782,"color":"#000"},{"offset":0.48,"color":"#fff"},{"offset":0.486,"color":"#fff"},{"offset":0.4882,"color":"#000"},{"offset":0.49,"color":"#fff"},{"offset":0.496,"color":"#fff"},{"offset":0.4982,"color":"#000"},
{"offset":0.5,"color":"#fff"},{"offset":0.506,"color":"#fff"},{"offset":0.5082,"color":"#000"},{"offset":0.51,"color":"#fff"},{"offset":0.516,"color":"#fff"},{"offset":0.5182,"color":"#000"},{"offset":0.52,"color":"#fff"},{"offset":0.526,"color":"#fff"},{"offset":0.5282,"color":"#000"},{"offset":0.53,"color":"#fff"},{"offset":0.536,"color":"#fff"},{"offset":0.5382,"color":"#000"},{"offset":0.54,"color":"#fff"},{"offset":0.546,"color":"#fff"},{"offset":0.5482,"color":"#000"},{"offset":0.55,"color":"#fff"},{"offset":0.556,"color":"#fff"},{"offset":0.5582,"color":"#000"},{"offset":0.56,"color":"#fff"},{"offset":0.566,"color":"#fff"},{"offset":0.5682,"color":"#000"},{"offset":0.57,"color":"#fff"},{"offset":0.576,"color":"#fff"},{"offset":0.5782,"color":"#000"},{"offset":0.58,"color":"#fff"},{"offset":0.586,"color":"#fff"},{"offset":0.5882,"color":"#000"},{"offset":0.59,"color":"#fff"},{"offset":0.596,"color":"#fff"},{"offset":0.5982,"color":"#000"},
{"offset":0.6,"color":"#fff"},{"offset":0.606,"color":"#fff"},{"offset":0.6082,"color":"#000"},{"offset":0.61,"color":"#fff"},{"offset":0.616,"color":"#fff"},{"offset":0.6182,"color":"#000"},{"offset":0.62,"color":"#fff"},{"offset":0.626,"color":"#fff"},{"offset":0.6282,"color":"#000"},{"offset":0.63,"color":"#fff"},{"offset":0.636,"color":"#fff"},{"offset":0.6382,"color":"#000"},{"offset":0.64,"color":"#fff"},{"offset":0.646,"color":"#fff"},{"offset":0.6482,"color":"#000"},{"offset":0.65,"color":"#fff"},{"offset":0.656,"color":"#fff"},{"offset":0.6582,"color":"#000"},{"offset":0.66,"color":"#fff"},{"offset":0.666,"color":"#fff"},{"offset":0.6682,"color":"#000"},{"offset":0.67,"color":"#fff"},{"offset":0.676,"color":"#fff"},{"offset":0.6782,"color":"#000"},{"offset":0.68,"color":"#fff"},{"offset":0.686,"color":"#fff"},{"offset":0.6882,"color":"#000"},{"offset":0.69,"color":"#fff"},{"offset":0.696,"color":"#fff"},{"offset":0.6982,"color":"#000"},
{"offset":0.7,"color":"#fff"},{"offset":0.706,"color":"#fff"},{"offset":0.7082,"color":"#000"},{"offset":0.71,"color":"#fff"},{"offset":0.716,"color":"#fff"},{"offset":0.7182,"color":"#000"},{"offset":0.72,"color":"#fff"},{"offset":0.726,"color":"#fff"},{"offset":0.7282,"color":"#000"},{"offset":0.73,"color":"#fff"},{"offset":0.736,"color":"#fff"},{"offset":0.7382,"color":"#000"},{"offset":0.74,"color":"#fff"},{"offset":0.746,"color":"#fff"},{"offset":0.7482,"color":"#000"},{"offset":0.75,"color":"#fff"},{"offset":0.756,"color":"#fff"},{"offset":0.7582,"color":"#000"},{"offset":0.76,"color":"#fff"},{"offset":0.766,"color":"#fff"},{"offset":0.7682,"color":"#000"},{"offset":0.77,"color":"#fff"},{"offset":0.776,"color":"#fff"},{"offset":0.7782,"color":"#000"},{"offset":0.78,"color":"#fff"},{"offset":0.786,"color":"#fff"},{"offset":0.7882,"color":"#000"},{"offset":0.79,"color":"#fff"},{"offset":0.796,"color":"#fff"},{"offset":0.7982,"color":"#000"},
{"offset":0.8,"color":"#fff"},{"offset":0.806,"color":"#fff"},{"offset":0.8082,"color":"#000"},{"offset":0.81,"color":"#fff"},{"offset":0.816,"color":"#fff"},{"offset":0.8182,"color":"#000"},{"offset":0.82,"color":"#fff"},{"offset":0.826,"color":"#fff"},{"offset":0.8282,"color":"#000"},{"offset":0.83,"color":"#fff"},{"offset":0.836,"color":"#fff"},{"offset":0.8382,"color":"#000"},{"offset":0.84,"color":"#fff"},{"offset":0.846,"color":"#fff"},{"offset":0.8482,"color":"#000"},{"offset":0.85,"color":"#fff"},{"offset":0.856,"color":"#fff"},{"offset":0.8582,"color":"#000"},{"offset":0.86,"color":"#fff"},{"offset":0.866,"color":"#fff"},{"offset":0.8682,"color":"#000"},{"offset":0.87,"color":"#fff"},{"offset":0.876,"color":"#fff"},{"offset":0.8782,"color":"#000"},{"offset":0.88,"color":"#fff"},{"offset":0.886,"color":"#fff"},{"offset":0.8882,"color":"#000"},{"offset":0.89,"color":"#fff"},{"offset":0.896,"color":"#fff"},{"offset":0.8982,"color":"#000"},
{"offset":0.9,"color":"#fff"},{"offset":0.906,"color":"#fff"},{"offset":0.9082,"color":"#000"},{"offset":0.91,"color":"#fff"},{"offset":0.916,"color":"#fff"},{"offset":0.9182,"color":"#000"},{"offset":0.92,"color":"#fff"},{"offset":0.926,"color":"#fff"},{"offset":0.9282,"color":"#000"},{"offset":0.93,"color":"#fff"},{"offset":0.936,"color":"#fff"},{"offset":0.9382,"color":"#000"},{"offset":0.94,"color":"#fff"},{"offset":0.946,"color":"#fff"},{"offset":0.9482,"color":"#000"},{"offset":0.95,"color":"#fff"},{"offset":0.956,"color":"#fff"},{"offset":0.9582,"color":"#000"},{"offset":0.96,"color":"#fff"},{"offset":0.966,"color":"#fff"},{"offset":0.9682,"color":"#000"},{"offset":0.97,"color":"#fff"},{"offset":0.976,"color":"#fff"},{"offset":0.9782,"color":"#000"},{"offset":0.98,"color":"#fff"},{"offset":0.986,"color":"#fff"},{"offset":0.9882,"color":"#000"},{"offset":0.99,"color":"#fff"},{"offset":0.996,"color":"#fff"},{"offset":0.9982,"color":"#000"}
]}},
"encoding":{"y":{"field":"lo","type":"quantitative","axis":null},"y2":{"field":"hi"}}},
{"data":{"name":"bandsB"},"transform":[{"filter":"datum.pos == 'above'"}],
"mark":{"type":"text","align":"right","baseline":"alphabetic","dy":-7,"fontSize":15.5,"fontWeight":"bold","font":"Liberation Sans","color":"#000"},
"encoding":{"x":{"datum":1422,"type":"quantitative","axis":null},"y":{"field":"hi","type":"quantitative","axis":null},"text":{"field":"name"}}},
{"data":{"name":"bandsB"},"transform":[{"filter":"datum.pos == 'below'"}],
"mark":{"type":"text","align":"left","baseline":"top","dx":3,"dy":4,"fontSize":15.5,"fontWeight":"bold","font":"Liberation Sans","color":"#000"},
"encoding":{"x":{"datum":769,"type":"quantitative","axis":null},"y":{"field":"lo","type":"quantitative","axis":null},"text":{"field":"name"}}},
{"data":{"name":"letterB"},
"mark":{"type":"text","align":"left","baseline":"alphabetic","dx":-80,"dy":21,"fontSize":32,"fontWeight":"bold","font":"Liberation Sans","color":"#000"},
"encoding":{"x":{"datum":769,"type":"quantitative","axis":null},"y":{"datum":6.908,"type":"quantitative","axis":null},"text":{"field":"letter"}}},
{"data":{"name":"ptsB"},
"mark":{"type":"errorbar","ticks":{"size":12},"thickness":1,"color":"#000"},
"encoding":{"x":{"field":"T","type":"quantitative","scale":{"domain":[769,1422],"nice":false,"zero":false},"axis":{"orient":"bottom","values":[850,950,1050,1150,1250,1350],"tickSize":2,"labels":false,"domain":false,"title":null}},"y":{"field":"v","type":"quantitative","axis":null},"yError":{"field":"e"}}},
{"data":{"name":"ptsB"},
"mark":{"type":"square","size":42,"color":"#000","opacity":1},
"encoding":{"x":{"field":"T","type":"quantitative","axis":{"orient":"bottom","values":[800,900,1000,1100,1200,1300,1400],"format":"d","tickSize":5,"labelPadding":8,"titlePadding":11,"title":"Temperature (°C)"}},
"y":{"field":"v","type":"quantitative","axis":{"orient":"left","values":[6.880,6.885,6.890,6.895,6.900,6.905],"format":".3f","tickSize":5,"labelPadding":3,"titlePadding":12,"title":"c (Å)"}}}}
],
"resolve":{"axis":{"x":"independent","y":"independent"}}
}
]
}
